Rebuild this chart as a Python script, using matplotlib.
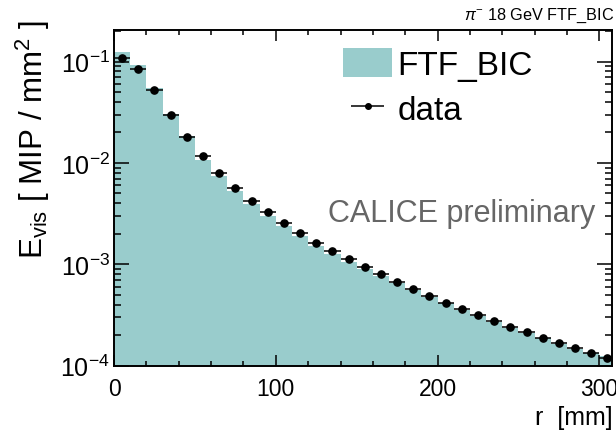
import numpy as np
import matplotlib
matplotlib.use("Agg")
import matplotlib.pyplot as plt
from matplotlib.patches import Patch
from matplotlib.ticker import MultipleLocator, LogLocator

plt.rcParams['font.family'] = ['Liberation Sans', 'DejaVu Sans']
plt.rcParams['mathtext.fontset'] = 'custom'
plt.rcParams['mathtext.rm'] = 'Liberation Sans'
plt.rcParams['mathtext.it'] = 'Liberation Sans:italic'
plt.rcParams['mathtext.bf'] = 'Liberation Sans:bold'
plt.rcParams['mathtext.sf'] = 'Liberation Sans'

# radial bins (mm)
bin_edges = np.arange(0, 320, 10)
bin_centers = bin_edges[:-1] + 5

# FTF_BIC simulation
sim_values = [0.1239, 0.092, 0.0546, 0.0305, 0.01835, 0.01079, 7.39e-3, 5.25e-3,
              3.91e-3, 3.02e-3, 2.38e-3, 1.89e-3, 1.53e-3, 1.27e-3, 1.06e-3, 9.0e-4,
              7.6e-4, 6.5e-4, 5.53e-4, 4.75e-4, 4.12e-4, 3.56e-4, 3.11e-4, 2.71e-4,
              2.37e-4, 2.08e-4, 1.86e-4, 1.63e-4, 1.46e-4, 1.32e-4, 1.24e-4]

# measured data
data_values = [0.1087, 0.0841, 0.0526, 0.0300, 0.0182, 0.01164, 8.02e-3, 5.70e-3,
               4.22e-3, 3.26e-3, 2.56e-3, 2.02e-3, 1.63e-3, 1.35e-3, 1.13e-3, 9.33e-4,
               7.96e-4, 6.73e-4, 5.70e-4, 4.90e-4, 4.18e-4, 3.62e-4, 3.16e-4, 2.75e-4,
               2.42e-4, 2.13e-4, 1.89e-4, 1.67e-4, 1.49e-4, 1.33e-4, 1.18e-4]

fill_color = '#99cccc'

fig = plt.figure(figsize=(6.16, 4.35), dpi=100)
ax = fig.add_axes([0.1851, 0.157, 0.8076, 0.7717])

ax.stairs(sim_values, bin_edges, baseline=1e-6, fill=True, color=fill_color, lw=0)
ax.errorbar(bin_centers, data_values, xerr=5, fmt='o', color='black', ms=5.2,
            elinewidth=1.1, capsize=0)

ax.set_yscale('log')
ax.set_xlim(0, 307.5)
ax.set_ylim(1e-4, 0.205)

ax.xaxis.set_major_locator(MultipleLocator(100))
ax.xaxis.set_minor_locator(MultipleLocator(20))
ax.yaxis.set_major_locator(LogLocator(base=10))
ax.yaxis.set_minor_locator(LogLocator(base=10, subs=np.arange(2, 10)))
ax.yaxis.set_minor_formatter(plt.NullFormatter())

for s in ax.spines.values():
    s.set_linewidth(1.4)
ax.tick_params(which='both', direction='in', top=True, right=True, width=1.1)
ax.tick_params(axis='x', which='major', length=7.7, labelsize=16.5, pad=8)
ax.tick_params(axis='x', which='minor', length=3.8)
ax.tick_params(axis='y', which='major', length=10.8, labelsize=18, pad=3)
ax.tick_params(axis='y', which='minor', length=5)

fig.text(0.994, 1 - 430 / 435, 'r  [mm]', ha='right', va='bottom', fontsize=18)
fig.text(33 / 616, 1 - 20 / 435, r'E$_{\mathregular{vis}}$ [ MIP / mm$^{\mathregular{2}}$ ]',
         rotation=90, ha='center', va='top', fontsize=22.5)
fig.text(614 / 616, 1 - 20 / 435, r'$\pi^{-}$ 18 GeV FTF_BIC', ha='right',
         va='baseline', fontsize=11.7)
fig.text(595 / 616, 1 - 222 / 435, 'CALICE preliminary', ha='right', va='baseline',
         fontsize=22, color='#666666')

handles = [Patch(facecolor=fill_color, edgecolor='none'),
           ax.errorbar([], [], xerr=[], fmt='o', color='black', ms=4, elinewidth=1.1)]
ax.legend(handles, ['FTF_BIC', 'data'], loc='upper left',
          bbox_to_anchor=(343 / 616, 1 - 49 / 435), bbox_transform=fig.transFigure,
          frameon=False, fontsize=24, borderpad=0, borderaxespad=0,
          handlelength=1.48, handleheight=0.97, handletextpad=0.15, labelspacing=0.35)

fig.savefig('out.png', dpi=100)
